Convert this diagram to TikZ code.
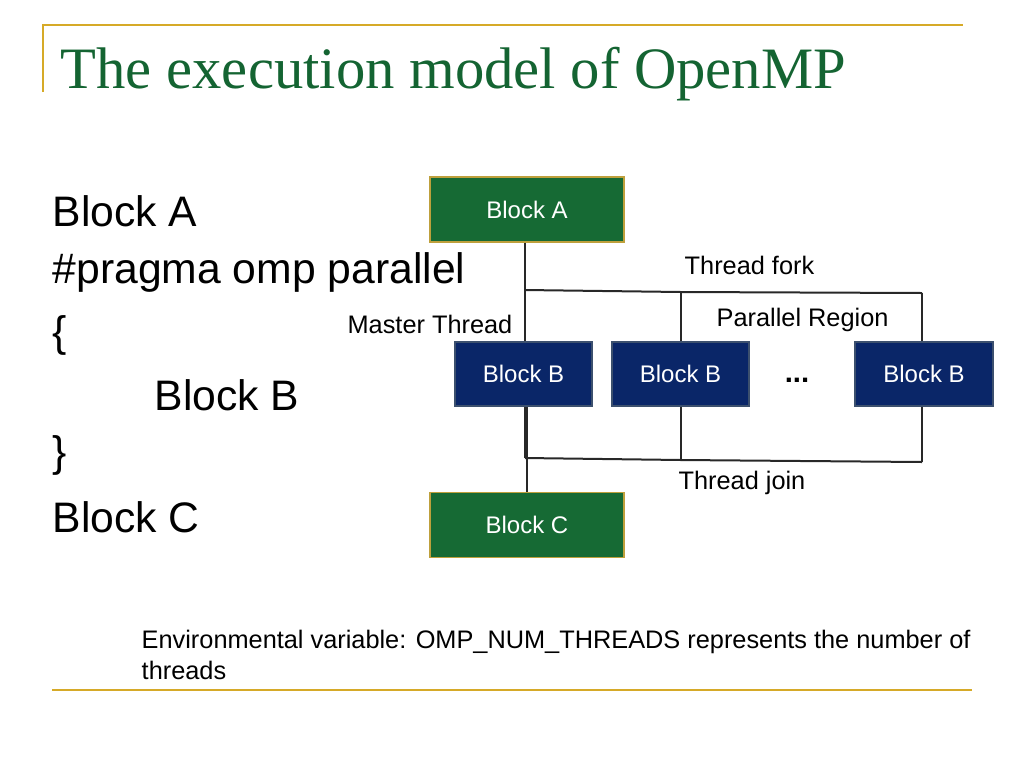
\documentclass[tikz,border=0pt]{standalone}
\usepackage{fontspec}
\setmainfont{Liberation Serif}
\newfontfamily\sans{Liberation Sans}
\begin{document}
\begin{tikzpicture}[x=0.75pt,y=-0.75pt,
  gold/.style={draw={rgb,255:red,214;green,170;blue,40},line width=1.5pt},
  gbox/.style={draw={rgb,255:red,190;green,160;blue,60},fill={rgb,255:red,22;green,106;blue,52},line width=1pt,text=white,font=\sans\fontsize{18}{20}\selectfont},
  bbox/.style={draw={rgb,255:red,60;green,80;blue,110},fill={rgb,255:red,10;green,38;blue,104},line width=1pt,text=white,font=\sans\fontsize{18}{20}\selectfont},
  big/.style={anchor=west,font=\sans\fontsize{32}{36}\selectfont},
  lab/.style={font=\sans\fontsize{19}{21}\selectfont},
  ln/.style={draw={rgb,255:red,40;green,40;blue,40},line width=1.5pt}]
\useasboundingbox (0,0) rectangle (1024,768);
\draw[gold] (43,92) -- (43,25) -- (963,25);
\draw[gold] (52,690) -- (972,690);
\node[anchor=west,text={rgb,255:red,20;green,100;blue,50},font=\fontsize{44}{48}\selectfont] (title) at (56,74) {The execution model of OpenMP};
\node[big] (l1) at (48,211) {Block A};
\node[big] (l2) at (48,272) {\#pragma omp parallel};
\node[big] (l3) at (48,335) {\{};
\node[big] (l4) at (150,395) {Block B};
\node[big] (l5) at (48,455) {\}};
\node[big] (l6) at (48,517) {Block C};
\node[gbox,minimum width=145.5pt,minimum height=48.75pt] (A) at (527,209.5) {Block A};
\node[gbox,minimum width=145.5pt,minimum height=48.75pt] (C) at (527,525) {Block C};
\node[bbox,minimum width=102.75pt,minimum height=48pt] (B1) at (523.5,374) {Block B};
\node[bbox,minimum width=102.75pt,minimum height=48pt] (B2) at (680.5,374) {Block B};
\node[bbox,minimum width=103.5pt,minimum height=48pt] (B3) at (924,374) {Block B};
\node[font=\sans\bfseries\fontsize{22}{22}\selectfont] (dots) at (797,380) {...};
\coordinate (f1) at (525,290); \coordinate (f2) at (681,292); \coordinate (f3) at (922,293);
\coordinate (j1) at (525,458); \coordinate (j2) at (681,460); \coordinate (j3) at (922,462);
\draw[ln] (A.south -| f1) -- (B1.north -| f1);
\draw[ln] (f1) -- (f2) -- (f3);
\draw[ln] (f2) -- (B2.north -| f2);
\draw[ln] (f3) -- (B3.north -| f3);
\draw[ln] (B1.south -| j1) -- (j1);
\draw[ln] (B2.south -| j2) -- (j2);
\draw[ln] (B3.south -| j3) -- (j3);
\draw[ln] (j1) -- (j2) -- (j3);
\draw[ln] (B1.south -| 527,0) -- (C.north -| 527,0);
\node[lab,anchor=west] (tf) at (680,265) {Thread fork};
\node[lab,anchor=west] (pr) at (712,320) {Parallel Region};
\node[lab] (mt) at (430,324) {Master Thread};
\node[lab] (tj) at (742,483) {Thread join};
\node[anchor=west,font=\sans\fontsize{19}{23}\selectfont,align=left] (env) at (137,655) {Environmental variable: OMP\_NUM\_THREADS represents the number of\\threads};
\end{tikzpicture}
\end{document}
